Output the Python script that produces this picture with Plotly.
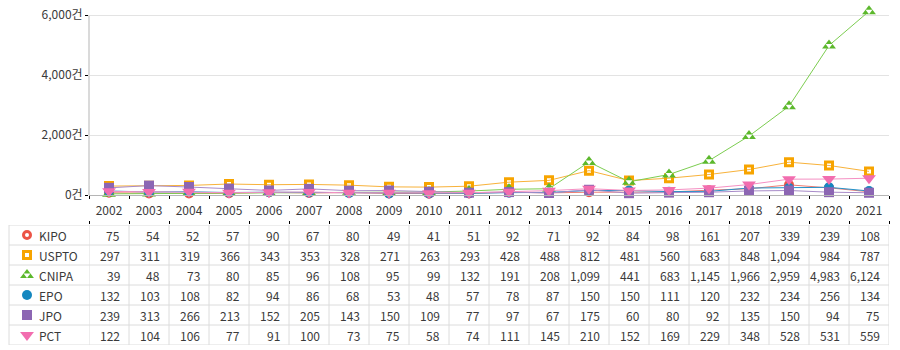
import plotly.graph_objects as go

years = [str(y) for y in range(2002, 2022)]
kipo = [75, 54, 52, 57, 90, 67, 80, 49, 41, 51, 92, 71, 92, 84, 98, 161, 207, 339, 239, 108]
uspto = [297, 311, 319, 366, 343, 353, 328, 271, 263, 293, 428, 488, 812, 481, 560, 683, 848, 1094, 984, 787]
cnipa = [39, 48, 73, 80, 85, 96, 108, 95, 99, 132, 191, 208, 1099, 441, 683, 1145, 1966, 2959, 4983, 6124]
epo = [132, 103, 108, 82, 94, 86, 68, 53, 48, 57, 78, 87, 150, 150, 111, 120, 232, 234, 256, 134]
jpo = [239, 313, 266, 213, 152, 205, 143, 150, 109, 77, 97, 67, 175, 60, 80, 92, 135, 150, 94, 75]
pct = [122, 104, 106, 77, 91, 100, 73, 75, 58, 74, 111, 145, 210, 152, 169, 229, 348, 528, 531, 559]
series_names = ["KIPO", "USPTO", "CNIPA", "EPO", "JPO", "PCT"]
y_ticks = [0, 2000, 4000, 6000]
y_tick_labels = [f"{v:,}건" for v in y_ticks]

series_values = [kipo, uspto, cnipa, epo, jpo, pct]

FONT = "Noto Sans CJK KR, Noto Sans, sans-serif"
TXT = "#3a3a3a"

styles = {
    "KIPO": dict(symbol="circle-open", size=7, color="#ec5446", lw=3, line="#ef7d72"),
    "USPTO": dict(symbol="square-open", size=7, color="#f7a400", lw=3, line="#f8b23a"),
    "CNIPA": dict(symbol="triangle-up", size=12, color="#5cb82c", lw=0, line="#7ccd50"),
    "EPO": dict(symbol="circle", size=10, color="#1487bf", lw=0, line="#2392c9"),
    "JPO": dict(symbol="square", size=10, color="#8c66b3", lw=0, line="#a88bc9"),
    "PCT": dict(symbol="triangle-down", size=12, color="#f26daf", lw=0, line="#f590c3"),
}

W, H = 900, 350
x_left, x_right = 89, 889
plot_top, plot_bottom = 15, 195          # pixel rows of 6000 and 0
tab_top, tab_bottom = 225, 345
tab_left = 9
y_max_tick = 6000
y_range_top = 6300                        # headroom so the top marker is not clipped
top_px = plot_bottom - (plot_bottom - plot_top) * y_range_top / y_max_tick

fig = go.Figure()

for name, vals in zip(series_names, series_values):
    s = styles[name]
    mk = dict(symbol=s["symbol"], size=s["size"], color=s["color"])
    mk["line"] = dict(width=s["lw"], color=s["color"]) if s["lw"] else dict(width=0)
    fig.add_trace(go.Scatter(
        x=years, y=vals, mode="lines+markers", name=name,
        line=dict(color=s["line"], width=1), marker=mk,
        cliponaxis=False, showlegend=False, hoverinfo="skip"))
    if name == "CNIPA":
        fig.add_trace(go.Scatter(
            x=years, y=vals, mode="markers",
            marker=dict(symbol="triangle-down", size=6, color="white", line=dict(width=0)),
            cliponaxis=False, showlegend=False, hoverinfo="skip"))

# dummy trace to drive the table-top tick axis
fig.add_trace(go.Scatter(x=years, y=[3] * len(years), xaxis="x2", yaxis="y2",
                         mode="markers", marker=dict(opacity=0),
                         showlegend=False, hoverinfo="skip"))

# legend markers in table label column
for i, name in enumerate(series_names):
    s = styles[name]
    mk = dict(symbol=s["symbol"], size=s["size"], color=s["color"])
    mk["line"] = dict(width=s["lw"], color=s["color"]) if s["lw"] else dict(width=0)
    fig.add_trace(go.Scatter(x=[27], y=[i + 0.5], xaxis="x3", yaxis="y2", mode="markers",
                             marker=mk, showlegend=False, hoverinfo="skip", cliponaxis=False))
    if name == "CNIPA":
        fig.add_trace(go.Scatter(x=[27], y=[i + 0.5], xaxis="x3", yaxis="y2", mode="markers",
                                 marker=dict(symbol="triangle-down", size=6, color="white",
                                             line=dict(width=0)),
                                 showlegend=False, hoverinfo="skip", cliponaxis=False))

annotations = []
for i, (name, vals) in enumerate(zip(series_names, series_values)):
    annotations.append(dict(xref="x3", yref="y2", x=37, y=i + 0.5, text=name,
                            showarrow=False, xanchor="left", yanchor="middle",
                            font=dict(family=FONT, size=12, color=TXT)))
    for j, v in enumerate(vals):
        annotations.append(dict(xref="x", yref="y2", x=j, y=i + 0.5, text=f"{v:,}",
                                showarrow=False, xanchor="right", yanchor="middle",
                                xshift=13,
                                font=dict(family=FONT, size=12, color=TXT)))

shapes = []
grid = "#dcdcdc"
n = len(series_names)
for r in range(n + 1):
    shapes.append(dict(type="line", xref="paper", yref="y2",
                       x0=tab_left / W, x1=x_right / W, y0=r, y1=r,
                       line=dict(color=grid, width=1), layer="below"))
shapes.append(dict(type="line", xref="paper", yref="y2", x0=tab_left / W, x1=tab_left / W,
                   y0=0, y1=n, line=dict(color=grid, width=1), layer="below"))
for c in range(len(years) + 1):
    shapes.append(dict(type="line", xref="x", yref="y2", x0=c - 0.5, x1=c - 0.5,
                       y0=0, y1=n, line=dict(color=grid, width=1), layer="below"))
# y axis line only up to the top tick
shapes.append(dict(type="line", xref="paper", yref="y", x0=x_left / W, x1=x_left / W,
                   y0=0, y1=y_max_tick, line=dict(color="#b5b5b5", width=1), layer="below"))

fig.update_layout(
    width=W, height=H,
    margin=dict(l=0, r=0, t=0, b=0, autoexpand=False),
    paper_bgcolor="white", plot_bgcolor="white",
    showlegend=False,
    font=dict(family=FONT, size=12, color=TXT),
    xaxis=dict(domain=[x_left / W, x_right / W], type="category",
               categoryorder="array", categoryarray=years,
               range=[-0.5, len(years) - 0.5], anchor="y", automargin=False,
               showline=True, linecolor="#b5b5b5", linewidth=1,
               ticks="outside", ticklen=3, tickcolor="#000", tickson="boundaries",
               ticklabelstandoff=5, showgrid=False,
               tickfont=dict(family=FONT, size=12, color=TXT)),
    yaxis=dict(domain=[1 - plot_bottom / H, 1 - top_px / H], range=[0, y_range_top],
               tickmode="array", tickvals=y_ticks, ticktext=y_tick_labels,
               automargin=False,
               showgrid=True, gridcolor="#e3e3e3", gridwidth=1, zeroline=False,
               showline=False,
               ticks="outside", ticklen=3, tickcolor="#000",
               tickfont=dict(family=FONT, size=12, color=TXT), anchor="x"),
    xaxis2=dict(domain=[x_left / W, x_right / W], type="category",
                categoryorder="array", categoryarray=years, automargin=False,
                range=[-0.5, len(years) - 0.5], anchor="y2", side="top",
                showline=False, showgrid=False, showticklabels=False,
                ticks="outside", ticklen=3, tickcolor="#000", tickson="boundaries"),
    yaxis2=dict(domain=[1 - tab_bottom / H, 1 - tab_top / H], range=[n, 0],
                visible=False, anchor="x2", automargin=False),
    xaxis3=dict(domain=[0, x_left / W], range=[0, x_left], visible=False, anchor="y2",
                automargin=False),
    annotations=annotations,
    shapes=shapes,
)

fig.write_html("out.html")
